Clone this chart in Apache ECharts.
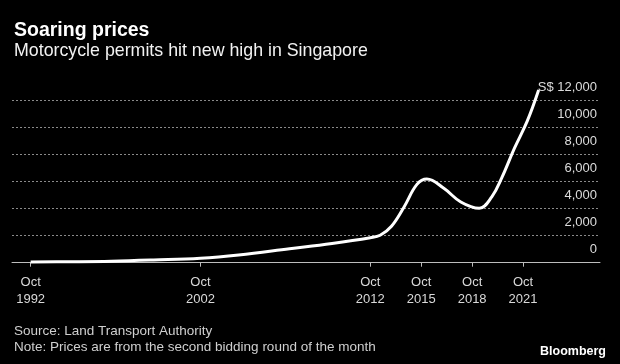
<!DOCTYPE html>
<html>
<head>
<meta charset="utf-8">
<script src="https://cdn.jsdelivr.net/npm/echarts@6/dist/echarts.min.js"></script>
<style>
html,body{margin:0;padding:0;background:#000;}
#chart{width:620px;height:364px;}
</style>
</head>
<body>
<div id="chart"></div>
<script>
// ---- data ----
const dates = ['1992-10','1995-01','1997-07','2000-01','2002-10','2005-01','2008-01','2010-07','2012-10','2013-05','2014-01','2014-10','2015-07','2016-02','2017-02','2018-02','2019-03','2019-12','2020-07','2021-04','2022-01','2022-09'];
const prices = [50,70,110,200,330,570,1030,1420,1850,2030,2700,4150,5800,6200,5510,4500,4030,4900,6300,8500,10500,12790];
const tickDates = ['1992-10','2002-10','2012-10','2015-10','2018-10','2021-10'];
const yTickValues = [0,2000,4000,6000,8000,10000,12000];
const yTickLabels = ['0','2,000','4,000','6,000','8,000','10,000','S$ 12,000'];

const titleText = 'Soaring prices';
const subtitleText = 'Motorcycle permits hit new high in Singapore';
const sourceText = 'Source: Land Transport Authority';
const noteText = 'Note: Prices are from the second bidding round of the month';
const brandText = 'Bloomberg';

const monthNames = ['Jan','Feb','Mar','Apr','May','Jun','Jul','Aug','Sep','Oct','Nov','Dec'];
// convert 'YYYY-MM' to a decimal year (start of month)
function toYear(s){ const p = s.split('-').map(Number); return p[0] + (p[1]-1)/12; }

const seriesData = dates.map((d,i)=>[toYear(d), prices[i]]);
const tickYears = tickDates.map(toYear);
function tickLabel(v){
  let best = 0;
  tickYears.forEach((t,i)=>{ if (Math.abs(t-v) < Math.abs(tickYears[best]-v)) best = i; });
  const p = tickDates[best].split('-').map(Number);
  return monthNames[p[1]-1] + '\n' + p[0];
}

const font = '"Liberation Sans", Arial, sans-serif';
const chart = echarts.init(document.getElementById('chart'), null, {renderer:'canvas'});
chart.setOption({
  backgroundColor: '#000',
  animation: false,
  grid: { left: 12, right: 20, top: 100.7, bottom: 101.3, containLabel: false },
  xAxis: {
    type: 'value',
    min: 1991.653,
    max: 2026.28,
    axisLine: { show: true, lineStyle: { color: '#bdbdbd', width: 1 } },
    axisTick: { show: true, length: 4, lineStyle: { color: '#bdbdbd' }, customValues: tickYears },
    splitLine: { show: false },
    axisLabel: {
      customValues: tickYears,
      color: '#d9d9d9', fontFamily: font, fontSize: 13, lineHeight: 17, margin: 11,
      formatter: tickLabel
    }
  },
  yAxis: {
    type: 'value',
    position: 'right',
    min: 0, max: 12000, interval: 2000,
    axisLine: { show: false },
    axisTick: { show: false },
    splitLine: { show: true, lineStyle: { color: '#8a8a8a', type: [2,2], width: 1 } },
    axisLabel: {
      inside: true, margin: 3, color: '#dcdcdc', fontFamily: font, fontSize: 13,
      verticalAlign: 'bottom', padding: [0,0,7,0],
      formatter: function(v){ const i = yTickValues.indexOf(v); return i >= 0 ? yTickLabels[i] : ''; }
    }
  },
  series: [{
    type: 'line',
    data: seriesData,
    smooth: 0.4,
    showSymbol: false,
    clip: false,
    lineStyle: { color: '#ffffff', width: 3 }
  }],
  graphic: [
    { type: 'text', left: 14, top: 21, style: { text: titleText, fill: '#fff', font: 'bold 19.5px ' + font } },
    { type: 'text', left: 14, top: 42, style: { text: subtitleText, fill: '#f2f2f2', font: '17.8px ' + font } },
    { type: 'text', left: 14, top: 324, style: { text: sourceText, fill: '#cfcfcf', font: '13.5px ' + font } },
    { type: 'text', left: 14, top: 340, style: { text: noteText, fill: '#cfcfcf', font: '13.5px ' + font } },
    { type: 'text', right: 14, top: 345, style: { text: brandText, fill: '#fff', font: 'bold 12.5px ' + font } }
  ]
});
</script>
</body>
</html>
